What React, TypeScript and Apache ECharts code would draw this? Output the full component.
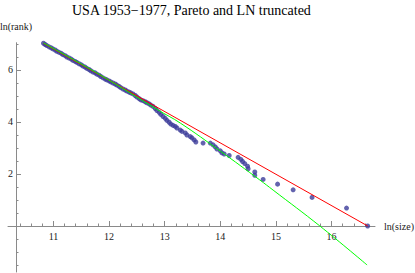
import React, { useEffect, useRef } from "react";
import * as echarts from "echarts";

// ---- data ----
const lnSize = [
  10.82, 10.85, 10.88, 10.92, 10.96, 10.99, 11.03, 11.06, 11.1, 11.14, 11.17, 11.21, 11.24, 11.28,
  11.32, 11.35, 11.39, 11.42, 11.46, 11.5, 11.53, 11.57, 11.6, 11.64, 11.67, 11.71, 11.75, 11.78,
  11.82, 11.85, 11.89, 11.93, 11.96, 12.0, 12.03, 12.07, 12.11, 12.14, 12.18, 12.21, 12.25, 12.29,
  12.32, 12.36, 12.39, 12.43, 12.47, 12.5, 12.54, 12.57, 12.61, 12.65, 12.68, 12.72, 12.75, 12.79,
  12.83, 12.86, 12.9, 12.93, 12.97, 13.01, 13.04, 13.08, 13.11, 13.15, 13.19, 13.22, 13.28, 13.31,
  13.37, 13.4, 13.46, 13.49, 13.53, 13.56, 13.69, 13.82, 13.87, 13.91, 13.94, 14.0, 14.03, 14.07,
  14.16, 14.32, 14.37, 14.4, 14.44, 14.49, 14.5, 14.62, 14.62, 14.77, 15.03, 15.31, 15.65, 16.27,
  16.65,
];
const lnRank = [
  7.03, 6.98, 6.94, 6.89, 6.85, 6.81, 6.77, 6.72, 6.68, 6.64, 6.59, 6.55, 6.5, 6.46,
  6.42, 6.37, 6.33, 6.29, 6.24, 6.2, 6.15, 6.11, 6.06, 6.02, 5.97, 5.92, 5.89, 5.84,
  5.8, 5.75, 5.7, 5.65, 5.62, 5.58, 5.54, 5.5, 5.46, 5.42, 5.37, 5.32, 5.27, 5.23,
  5.19, 5.15, 5.12, 5.08, 5.02, 4.96, 4.9, 4.85, 4.82, 4.78, 4.74, 4.7, 4.65, 4.6,
  4.52, 4.44, 4.37, 4.29, 4.21, 4.14, 4.06, 3.99, 3.92, 3.87, 3.83, 3.77, 3.69, 3.64,
  3.58, 3.5, 3.44, 3.39, 3.31, 3.23, 3.19, 3.19, 3.12, 3.04, 2.96, 2.89, 2.81, 2.77,
  2.71, 2.64, 2.56, 2.48, 2.4, 2.3, 2.2, 2.08, 1.95, 1.79, 1.61, 1.39, 1.1, 0.69,
  0.0,
];

// Pareto fit (red)
const paretoX = [10.82, 16.65];
const paretoY = [7.03, 0.0];

// Lognormal truncated fit (green)
const lnFitX = [10.82, 11.84, 12.88, 13.28, 14.0, 14.71, 14.95, 15.79, 16.64];
const lnFitY = [7.04, 5.81, 4.46, 3.96, 2.88, 1.77, 1.38, 0.0, -1.5];

// ticks
const xMajorTicks = [11, 12, 13, 14, 15, 16];
const xMinorTicks = [
  10.4, 10.6, 10.8, 11, 11.2, 11.4, 11.6, 11.8, 12, 12.2, 12.4, 12.6, 12.8, 13, 13.2, 13.4, 13.6,
  13.8, 14, 14.2, 14.4, 14.6, 14.8, 15, 15.2, 15.4, 15.6, 15.8, 16, 16.2, 16.4, 16.6,
];
const yMajorTicks = [2, 4, 6];
const yMinorTicks = [-1.5, -1, -0.5, 0.5, 1, 1.5, 2, 2.5, 3, 3.5, 4, 4.5, 5, 5.5, 6, 6.5, 7];

const TITLE = "USA 1953\u22121977, Pareto and LN truncated";
const X_NAME = "ln(size)";
const Y_NAME = "ln(rank)";

const X_MIN = 10.182;
const X_MAX = 16.782;
const Y_MIN = -1.77;
const Y_MAX = 7.05;

const FONT = "'Liberation Serif', 'Times New Roman', serif";
const AXIS = "#8a8a8a";
const LABEL = "#1a1a1a";

export default function App() {
  const ref = useRef<HTMLDivElement>(null);

  useEffect(() => {
    if (!ref.current) return;
    const chart = echarts.init(ref.current, null, { renderer: "svg" });

    const scatterData = lnSize.map((x, i) => [x, lnRank[i]]);
    const paretoData = paretoX.map((x, i) => [x, paretoY[i]]);
    const lnData = lnFitX.map((x, i) => [x, lnFitY[i]]);

    const gridBase = { left: 8, right: 40, top: 42.7, containLabel: false, outerBoundsMode: "none" };
    const hiddenAxisParts = {
      axisLine: { show: false },
      axisTick: { show: false },
      axisLabel: { show: false },
      splitLine: { show: false },
    };

    const option: any = {
      animation: false,
      backgroundColor: "#ffffff",
      title: {
        text: TITLE,
        left: 72,
        top: 3,
        padding: 0,
        textStyle: { fontFamily: FONT, fontSize: 14, fontWeight: "normal", color: "#000" },
      },
      grid: [
        // plotting grid: full y range
        { ...gridBase, bottom: 1 },
        // x-axis grid: its bottom sits at y = 0 of the plotting grid
        { ...gridBase, bottom: 47 },
      ],
      xAxis: [
        { type: "value", gridIndex: 0, min: X_MIN, max: X_MAX, ...hiddenAxisParts },
        {
          type: "value",
          gridIndex: 1,
          position: "bottom",
          min: X_MIN,
          max: X_MAX,
          axisLine: { show: true, onZero: false, lineStyle: { color: AXIS, width: 1 } },
          axisTick: {
            show: true,
            customValues: xMinorTicks,
            inside: true,
            length: 2.5,
            lineStyle: { color: AXIS },
          },
          axisLabel: {
            show: true,
            customValues: xMajorTicks,
            margin: 5,
            fontFamily: FONT,
            fontSize: 10,
            color: LABEL,
          },
          splitLine: { show: false },
          name: X_NAME,
          nameLocation: "end",
          nameGap: 9,
          nameTextStyle: {
            fontFamily: FONT,
            fontSize: 10,
            color: LABEL,
            align: "left",
            verticalAlign: "middle",
          },
        },
        {
          type: "value",
          gridIndex: 1,
          position: "bottom",
          min: X_MIN,
          max: X_MAX,
          axisLine: { show: false, onZero: false },
          axisTick: {
            show: true,
            customValues: xMajorTicks,
            inside: true,
            length: 5,
            lineStyle: { color: AXIS },
          },
          axisLabel: { show: false },
          splitLine: { show: false },
        },
      ],
      yAxis: [
        {
          type: "value",
          gridIndex: 0,
          position: "left",
          offset: -8,
          min: Y_MIN,
          max: Y_MAX,
          axisLine: { show: true, onZero: false, lineStyle: { color: AXIS, width: 1 } },
          axisTick: {
            show: true,
            customValues: yMinorTicks,
            inside: true,
            length: 2.5,
            lineStyle: { color: AXIS },
          },
          axisLabel: {
            show: true,
            customValues: yMajorTicks,
            margin: 3,
            fontFamily: FONT,
            fontSize: 10,
            color: LABEL,
          },
          splitLine: { show: false },
          name: Y_NAME,
          nameLocation: "end",
          nameGap: 16,
          nameTextStyle: {
            fontFamily: FONT,
            fontSize: 10,
            color: LABEL,
            align: "center",
            verticalAlign: "middle",
          },
        },
        {
          type: "value",
          gridIndex: 0,
          position: "left",
          offset: -8,
          min: Y_MIN,
          max: Y_MAX,
          axisLine: { show: false, onZero: false },
          axisTick: {
            show: true,
            customValues: yMajorTicks,
            inside: true,
            length: 5,
            lineStyle: { color: AXIS },
          },
          axisLabel: { show: false },
          splitLine: { show: false },
        },
        { type: "value", gridIndex: 1, min: 0, max: 1, ...hiddenAxisParts },
      ],
      series: [
        {
          type: "scatter",
          xAxisIndex: 0,
          yAxisIndex: 0,
          data: scatterData,
          symbol: "circle",
          symbolSize: 5,
          itemStyle: { color: "#3c3c9a" },
          z: 2,
        },
        {
          type: "line",
          xAxisIndex: 0,
          yAxisIndex: 0,
          data: paretoData,
          symbol: "none",
          lineStyle: { color: "#ff0000", width: 1 },
          z: 3,
        },
        {
          type: "line",
          xAxisIndex: 0,
          yAxisIndex: 0,
          data: lnData,
          symbol: "none",
          smooth: 0.4,
          lineStyle: { color: "#00ff00", width: 1 },
          z: 4,
        },
      ],
    };

    chart.setOption(option);
    return () => chart.dispose();
  }, []);

  return (
    <div
      ref={ref}
      style={{ position: "absolute", left: 0, top: 0, width: 415, height: 273, background: "#fff" }}
    />
  );
}
